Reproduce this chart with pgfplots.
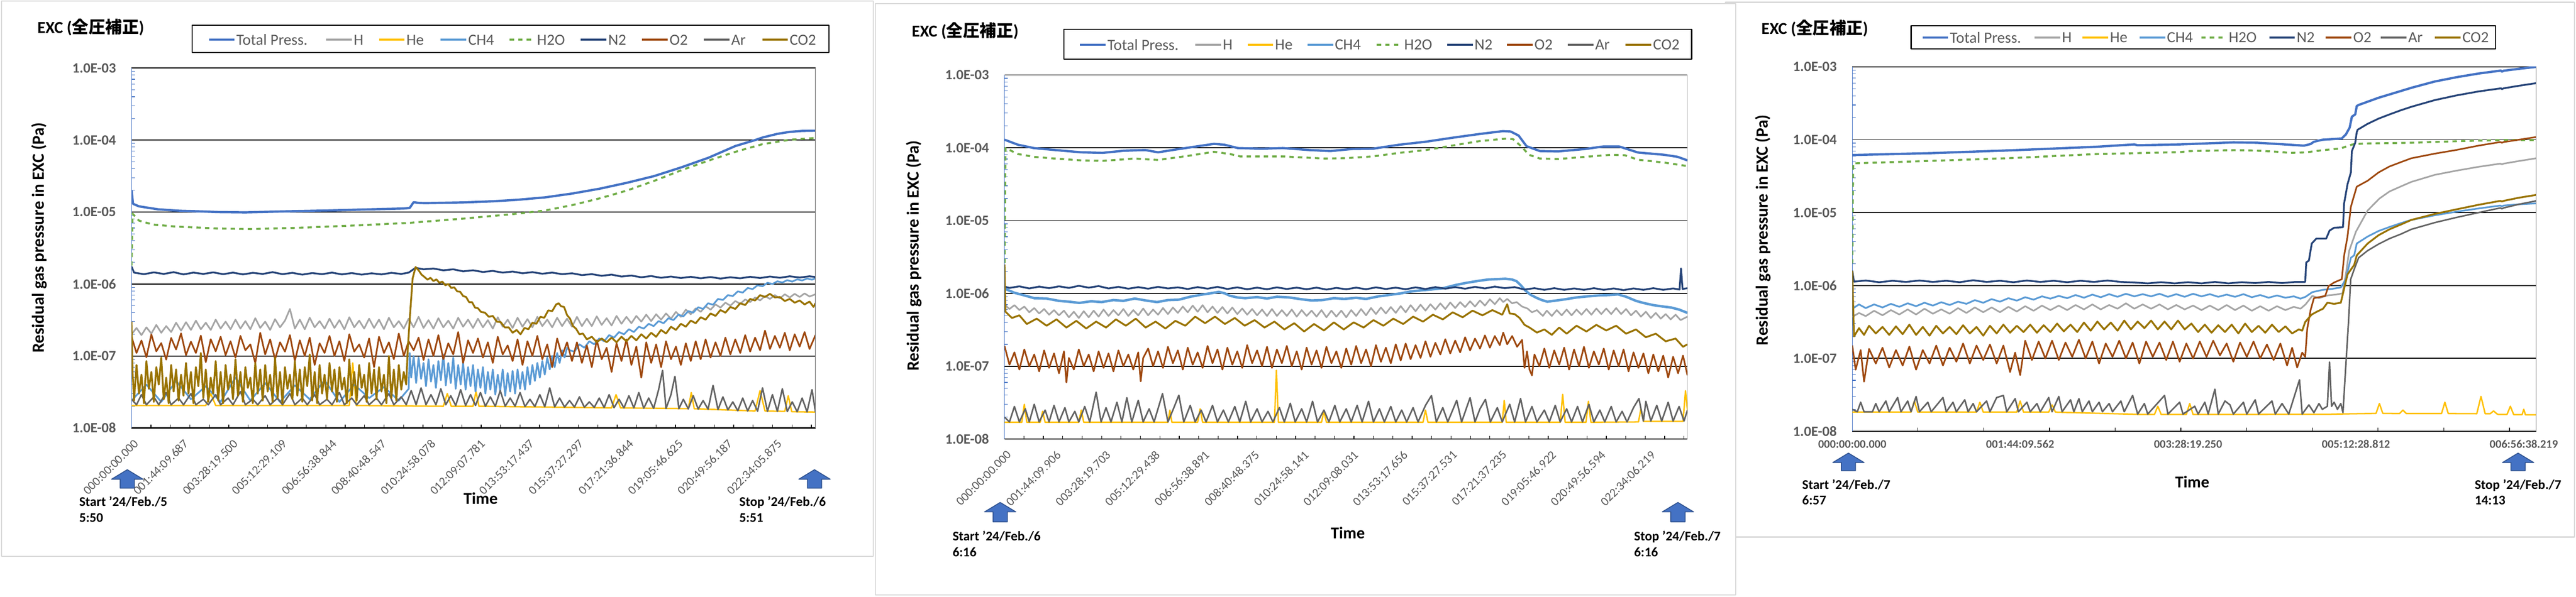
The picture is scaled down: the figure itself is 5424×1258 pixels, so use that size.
\documentclass[border=0pt]{standalone}
\usepackage{fontspec}
\setmainfont{Carlito}
\newfontfamily\cjk{Noto Sans CJK JP}
\usepackage{pgfplots}
\pgfplotsset{compat=1.18}

\definecolor{cTot}{HTML}{4472C4}
\definecolor{cH}{HTML}{A5A5A5}
\definecolor{cHe}{HTML}{FFC000}
\definecolor{cCH4}{HTML}{5B9BD5}
\definecolor{cH2O}{HTML}{70AD47}
\definecolor{cN2}{HTML}{264478}
\definecolor{cO2}{HTML}{9E480E}
\definecolor{cAr}{HTML}{636363}
\definecolor{cCO2}{HTML}{997300}
\definecolor{txtgray}{HTML}{595959}
\definecolor{framegray}{HTML}{D9D9D9}
\definecolor{arrowdk}{HTML}{2F528F}

\tikzset{
  sTot/.style={cTot, line width=1.2bp},
  sH/.style={cH, line width=0.85bp},
  sHe/.style={cHe, line width=0.75bp},
  sCH4/.style={cCH4, line width=0.9bp},
  sH2O/.style={cH2O, line width=1.05bp, dash pattern=on 2.3bp off 2.2bp},
  sN2/.style={cN2, line width=0.95bp},
  sO2/.style={cO2, line width=0.85bp},
  sAr/.style={cAr, line width=0.8bp},
  sCO2/.style={cCO2, line width=0.95bp},
}

% legend sample + text; #1 x start, #2 y, #3 style, #4 text
\newcommand\legitem[4]{%
  \draw[#3, line width=1.1bp] (#1,#2) -- ++(54,0);
  \node[anchor=west, inner sep=0pt, text=txtgray, font=\fontsize{8.2bp}{9bp}\selectfont] at (#1+57,#2) {#4};}

% blue block arrow; #1 centre x, #2 top y (tikz), #3 height
\newcommand\blockarrow[3]{%
  \filldraw[fill=cTot, draw=arrowdk, line width=0.45bp]
    (#1,#2) -- (#1+33,#2-20) -- (#1+15,#2-20) -- (#1+15,#2-#3)
    -- (#1-15,#2-#3) -- (#1-15,#2-20) -- (#1-33,#2-20) -- cycle;}

\pgfplotsset{
  rgax/.style={
    axis lines*=left,
    x axis line style={-, black, line width=0.6bp},
    y axis line style={-, cTot, line width=0.3bp},
    ytick={1e-8,1e-7,1e-6,1e-5,1e-4,1e-3},
    yticklabels={1.0E-08,1.0E-07,1.0E-06,1.0E-05,1.0E-04,1.0E-03},
    minor ytick={2e-8,3e-8,4e-8,5e-8,6e-8,7e-8,8e-8,9e-8,
                 2e-7,3e-7,4e-7,5e-7,6e-7,7e-7,8e-7,9e-7,
                 2e-6,3e-6,4e-6,5e-6,6e-6,7e-6,8e-6,9e-6,
                 2e-5,3e-5,4e-5,5e-5,6e-5,7e-5,8e-5,9e-5,
                 2e-4,3e-4,4e-4,5e-4,6e-4,7e-4,8e-4,9e-4},
    ymajorgrids, major grid style={black, line width=0.5bp},
    tick align=inside,
    major tick length=0pt, minor tick length=1.8bp,
    minor x tick style={black, line width=0.35bp},
    minor y tick style={cTot, line width=0.3bp},
    yticklabel style={font=\bfseries\fontsize{7.5bp}{8bp}\selectfont, text=txtgray,
                      anchor=east, inner sep=0pt, xshift=-8bp},
    no markers,
  },
  rgrot/.style={
    xticklabel style={xshift=1bp, yshift=-5.5bp, rotate=45, anchor=north east,
      inner sep=0pt, font=\fontsize{6.45bp}{7bp}\selectfont, text=txtgray},
  },
}

\begin{document}
\begin{tikzpicture}[x=0.25bp, y=0.25bp, line join=round]
\path[use as bounding box] (0,0) rectangle (5424,1258);

% chart area frames
\filldraw[fill=white, draw=framegray, line width=0.6bp] (3,1256) rectangle (1839,85);
\filldraw[fill=white, draw=framegray, line width=0.6bp] (3633,1253) rectangle (5421,126);
\filldraw[fill=white, draw=framegray, line width=0.6bp] (1843,1250) rectangle (3655,4);

% ================= panel 1 =================
\begin{axis}[scale only axis, anchor=south west, at={(69.25bp,89bp)},
  width=360bp, height=189.6bp,
  ymode=log, ymin=1e-8, ymax=1e-3, xmin=0, xmax=13.82,
  rgax, rgrot,
  xtick={0,1,...,13},
  xticklabels={000:00:00.000,001:44:09.687,003:28:19.500,005:12:29.109,006:56:38.844,008:40:48.547,010:24:58.078,012:09:07.781,013:53:17.437,015:37:27.297,017:21:36.844,019:05:46.625,020:49:56.187,022:34:05.875},
  minor xtick={0.3925,0.785,...,13.82}]
\addplot[sTot] coordinates {(0,2.0e-5)(0.03,1.3e-5)(0.15,1.2e-5)(0.32,1.15e-5)(0.54,1.09e-5)(0.98,1.04e-5)(1.4,1.02e-5)(1.75,1.0e-5)(2.3,9.9e-6)(3.07,1.02e-5)(3.95,1.05e-5)(4.83,1.09e-5)(5.5,1.12e-5)(5.62,1.14e-5)(5.7,1.37e-5)(5.8,1.34e-5)(5.93,1.33e-5)(6.7,1.36e-5)(7.3,1.41e-5)(7.8,1.48e-5)(8.36,1.6e-5)(8.91,1.81e-5)(9.46,2.11e-5)(10.01,2.55e-5)(10.56,3.16e-5)(11.11,4.18e-5)(11.66,5.69e-5)(12.2,8.26e-5)(12.6,1.0e-4)(12.76,1.09e-4)(13.05,1.22e-4)(13.3,1.3e-4)(13.55,1.34e-4)(13.82,1.35e-4)};
\addplot[sH] coordinates {(0,2.0e-7)(0.1,2.45e-7)(0.2,1.95e-7)(0.3,2.5e-7)(0.4,2.05e-7)(0.5,2.7e-7)(0.6,2.1e-7)(0.7,2.6e-7)(0.8,2.15e-7)(0.9,2.9e-7)(1.0,2.25e-7)(1.1,2.95e-7)(1.2,2.3e-7)(1.3,3.1e-7)(1.4,2.35e-7)(1.5,2.9e-7)(1.6,2.3e-7)(1.7,3.2e-7)(1.8,2.4e-7)(1.9,3.0e-7)(2.0,2.35e-7)(2.1,3.2e-7)(2.2,2.4e-7)(2.3,3.05e-7)(2.4,2.35e-7)(2.5,3.35e-7)(2.6,2.45e-7)(2.7,3.0e-7)(2.8,2.3e-7)(2.9,3.25e-7)(3.0,2.5e-7)(3.1,3.1e-7)(3.2,4.5e-7)(3.3,2.4e-7)(3.4,3.2e-7)(3.5,2.35e-7)(3.6,3.4e-7)(3.7,2.5e-7)(3.8,3.05e-7)(3.9,2.4e-7)(4.0,3.3e-7)(4.1,2.45e-7)(4.2,3.15e-7)(4.3,2.35e-7)(4.4,3.45e-7)(4.5,2.5e-7)(4.6,3.1e-7)(4.7,2.4e-7)(4.8,3.3e-7)(4.9,2.45e-7)(5.0,3.2e-7)(5.1,2.35e-7)(5.2,3.4e-7)(5.3,2.5e-7)(5.4,3.05e-7)(5.5,2.4e-7)(5.6,3.3e-7)(5.7,2.5e-7)(5.8,3.5e-7)(5.9,2.45e-7)(6.0,3.15e-7)(6.1,2.4e-7)(6.2,3.35e-7)(6.3,2.5e-7)(6.4,3.1e-7)(6.5,2.4e-7)(6.6,3.4e-7)(6.7,2.55e-7)(6.8,3.2e-7)(6.9,2.45e-7)(7.0,3.3e-7)(7.1,2.5e-7)(7.2,3.15e-7)(7.3,2.4e-7)(7.4,3.45e-7)(7.5,2.55e-7)(7.6,3.2e-7)(7.7,2.45e-7)(7.8,3.4e-7)(7.9,2.55e-7)(8.0,3.25e-7)(8.1,2.5e-7)(8.2,3.5e-7)(8.3,2.6e-7)(8.4,3.2e-7)(8.5,2.5e-7)(8.6,3.4e-7)(8.7,2.6e-7)(8.8,3.3e-7)(8.9,2.55e-7)(9.0,3.5e-7)(9.1,2.6e-7)(9.2,3.3e-7)(9.3,2.6e-7)(9.4,3.55e-7)(9.5,2.7e-7)(9.6,3.35e-7)(9.7,2.65e-7)(9.8,3.6e-7)(9.9,2.8e-7)(10.0,3.5e-7)(10.1,2.85e-7)(10.2,3.6e-7)(10.3,3.0e-7)(10.4,3.75e-7)(10.5,3.05e-7)(10.6,3.8e-7)(10.7,3.2e-7)(10.8,3.9e-7)(10.9,3.3e-7)(11.0,4.1e-7)(11.1,3.5e-7)(11.2,4.4e-7)(11.3,3.8e-7)(11.4,4.6e-7)(11.5,4.1e-7)(11.6,4.9e-7)(11.7,4.4e-7)(11.8,5.2e-7)(11.9,4.7e-7)(12.0,5.5e-7)(12.1,5.0e-7)(12.2,5.8e-7)(12.3,5.3e-7)(12.4,6.1e-7)(12.5,5.6e-7)(12.6,6.5e-7)(12.7,5.9e-7)(12.8,6.8e-7)(12.9,6.2e-7)(13.0,7.0e-7)(13.1,6.3e-7)(13.2,7.2e-7)(13.3,6.5e-7)(13.4,7.3e-7)(13.5,6.6e-7)(13.6,7.4e-7)(13.7,6.7e-7)(13.82,7.2e-7)};
\addplot[sHe] coordinates {(0,2.05e-8)(1.5,2.05e-8)(1.6,3.0e-8)(1.7,2.05e-8)(4.4,2.05e-8)(4.47,8.0e-8)(4.54,2.05e-8)(6.3,2.0e-8)(6.38,3.0e-8)(6.46,2.0e-8)(6.9,2.0e-8)(6.96,3.2e-8)(7.02,2.0e-8)(9.7,1.9e-8)(9.79,2.9e-8)(9.88,1.9e-8)(11.25,1.85e-8)(11.31,3.1e-8)(11.37,1.85e-8)(12.6,1.72e-8)(12.7,3.3e-8)(12.8,1.72e-8)(13.2,1.7e-8)(13.27,2.8e-8)(13.34,1.68e-8)(13.82,1.66e-8)};
\addplot[sCH4] coordinates {(0,2.4e-8)(0.3,4.0e-8)(0.6,2.3e-8)(0.9,4.5e-8)(1.2,2.5e-8)(1.5,3.8e-8)(1.8,2.3e-8)(2.1,5.0e-8)(2.4,2.4e-8)(2.7,4.2e-8)(3.0,2.3e-8)(3.3,3.9e-8)(3.6,2.5e-8)(3.9,4.6e-8)(4.2,2.3e-8)(4.5,4.0e-8)(4.8,2.6e-8)(5.1,3.7e-8)(5.4,2.4e-8)(5.6,3.5e-8)(5.62,1.1e-7)(5.65,5.0e-8)(5.7,1.0e-7)(5.75,4.2e-8)(5.8,9.5e-8)(5.85,4.8e-8)(5.9,8.0e-8)(5.95,3.8e-8)(6.0,9.0e-8)(6.05,4.4e-8)(6.1,7.5e-8)(6.15,3.6e-8)(6.2,8.5e-8)(6.25,4.6e-8)(6.3,1.05e-7)(6.35,3.9e-8)(6.4,8.0e-8)(6.45,4.2e-8)(6.5,9.5e-8)(6.55,3.5e-8)(6.6,7.5e-8)(6.65,4.0e-8)(6.7,8.0e-8)(6.75,3.4e-8)(6.8,7.0e-8)(6.85,3.8e-8)(6.9,7.5e-8)(6.95,3.2e-8)(7.0,6.5e-8)(7.05,3.6e-8)(7.1,7.0e-8)(7.15,3.0e-8)(7.2,6.0e-8)(7.25,3.4e-8)(7.3,6.5e-8)(7.35,2.9e-8)(7.4,5.5e-8)(7.45,3.3e-8)(7.5,6.5e-8)(7.55,2.8e-8)(7.6,5.8e-8)(7.65,3.2e-8)(7.7,6.2e-8)(7.75,3.0e-8)(7.8,6.5e-8)(7.85,3.5e-8)(7.9,6.0e-8)(7.95,3.4e-8)(8.0,7.0e-8)(8.05,4.0e-8)(8.1,7.5e-8)(8.15,4.5e-8)(8.2,8.0e-8)(8.25,5.0e-8)(8.3,8.5e-8)(8.35,5.5e-8)(8.4,9.5e-8)(8.45,6.5e-8)(8.5,1.0e-7)(8.55,7.0e-8)(8.6,1.1e-7)(8.65,8.0e-8)(8.7,1.2e-7)(8.75,9.5e-8)(8.8,1.3e-7)(8.85,1.2e-7)(8.95,1.15e-7)(9.05,1.45e-7)(9.15,1.3e-7)(9.25,1.6e-7)(9.35,1.45e-7)(9.45,1.75e-7)(9.55,1.6e-7)(9.65,1.95e-7)(9.75,1.8e-7)(9.85,2.15e-7)(9.95,2.0e-7)(10.05,2.35e-7)(10.15,2.15e-7)(10.25,2.55e-7)(10.35,2.4e-7)(10.45,2.8e-7)(10.55,2.6e-7)(10.65,3.05e-7)(10.75,2.85e-7)(10.85,3.35e-7)(10.95,3.15e-7)(11.05,3.75e-7)(11.15,3.55e-7)(11.25,4.2e-7)(11.35,4.0e-7)(11.45,4.75e-7)(11.55,4.5e-7)(11.65,5.4e-7)(11.75,5.15e-7)(11.85,6.2e-7)(11.95,6.0e-7)(12.05,7.0e-7)(12.15,6.8e-7)(12.25,7.9e-7)(12.35,7.6e-7)(12.45,8.8e-7)(12.55,8.5e-7)(12.65,9.6e-7)(12.75,9.3e-7)(12.85,1.04e-6)(12.95,1.0e-6)(13.05,1.09e-6)(13.15,1.05e-6)(13.25,1.13e-6)(13.35,1.08e-6)(13.45,1.16e-6)(13.55,1.12e-6)(13.65,1.19e-6)(13.75,1.15e-6)(13.82,1.2e-6)};
\addplot[sH2O] coordinates {(0,1.8e-6)(0.02,9.5e-6)(0.15,7.6e-6)(0.43,6.7e-6)(0.87,6.3e-6)(1.75,5.9e-6)(2.41,5.8e-6)(3.4,6.05e-6)(4.5,6.5e-6)(5.6,7.06e-6)(6.7,8.1e-6)(7.8,9.5e-6)(8.36,1.05e-5)(8.91,1.25e-5)(9.46,1.55e-5)(10.01,1.99e-5)(10.56,2.71e-5)(11.11,3.81e-5)(11.66,5.19e-5)(12.2,6.86e-5)(12.75,8.78e-5)(13.3,1.01e-4)(13.82,1.07e-4)};
\addplot[sN2] coordinates {(0,1.75e-6)(0.05,1.44e-6)(0.25,1.37e-6)(0.45,1.45e-6)(0.65,1.38e-6)(0.85,1.46e-6)(1.05,1.36e-6)(1.25,1.44e-6)(1.45,1.38e-6)(1.65,1.45e-6)(1.85,1.37e-6)(2.05,1.44e-6)(2.25,1.36e-6)(2.45,1.43e-6)(2.65,1.38e-6)(2.85,1.46e-6)(3.05,1.37e-6)(3.25,1.43e-6)(3.45,1.35e-6)(3.65,1.42e-6)(3.85,1.37e-6)(4.05,1.44e-6)(4.25,1.36e-6)(4.45,1.42e-6)(4.65,1.35e-6)(4.85,1.41e-6)(5.05,1.36e-6)(5.25,1.43e-6)(5.45,1.38e-6)(5.6,1.44e-6)(5.74,1.68e-6)(5.9,1.6e-6)(6.1,1.64e-6)(6.3,1.55e-6)(6.5,1.6e-6)(6.7,1.5e-6)(6.9,1.55e-6)(7.1,1.47e-6)(7.3,1.52e-6)(7.5,1.44e-6)(7.7,1.49e-6)(7.9,1.41e-6)(8.1,1.46e-6)(8.3,1.39e-6)(8.5,1.44e-6)(8.7,1.37e-6)(8.9,1.41e-6)(9.1,1.33e-6)(9.3,1.37e-6)(9.5,1.3e-6)(9.7,1.35e-6)(9.9,1.27e-6)(10.1,1.31e-6)(10.3,1.24e-6)(10.5,1.29e-6)(10.7,1.22e-6)(10.9,1.27e-6)(11.1,1.21e-6)(11.3,1.26e-6)(11.5,1.2e-6)(11.7,1.25e-6)(11.9,1.19e-6)(12.1,1.24e-6)(12.3,1.2e-6)(12.5,1.26e-6)(12.7,1.21e-6)(12.9,1.27e-6)(13.1,1.22e-6)(13.3,1.28e-6)(13.5,1.23e-6)(13.7,1.28e-6)(13.82,1.25e-6)};
\addplot[sO2] coordinates {(0,1.85e-7)(0.1,1.1e-7)(0.2,1.64e-7)(0.3,0.96e-7)(0.4,1.99e-7)(0.5,1.16e-7)(0.6,1.51e-7)(0.7,0.89e-7)(0.8,1.78e-7)(0.9,1.23e-7)(1.0,2.06e-7)(1.1,1.03e-7)(1.2,1.58e-7)(1.3,1.1e-7)(1.4,1.92e-7)(1.5,0.82e-7)(1.6,1.71e-7)(1.7,1.16e-7)(1.8,1.85e-7)(1.9,1.03e-7)(2.0,1.6e-7)(2.1,0.95e-7)(2.2,1.9e-7)(2.3,1.2e-7)(2.4,1.45e-7)(2.5,0.8e-7)(2.6,2.1e-7)(2.7,1.05e-7)(2.8,1.7e-7)(2.9,0.9e-7)(3.0,1.55e-7)(3.1,1.15e-7)(3.2,1.95e-7)(3.3,0.85e-7)(3.4,1.65e-7)(3.5,1.0e-7)(3.6,1.8e-7)(3.7,0.75e-7)(3.8,1.5e-7)(3.9,1.1e-7)(4.0,1.9e-7)(4.1,1.0e-7)(4.2,1.6e-7)(4.3,0.85e-7)(4.4,2.0e-7)(4.5,1.15e-7)(4.6,1.45e-7)(4.7,0.95e-7)(4.8,1.75e-7)(4.9,0.7e-7)(5.0,1.85e-7)(5.1,1.1e-7)(5.2,1.55e-7)(5.3,0.9e-7)(5.4,2.05e-7)(5.5,1.0e-7)(5.6,1.6e-7)(5.7,1.2e-7)(5.8,1.8e-7)(5.9,0.88e-7)(6.0,1.7e-7)(6.1,1.0e-7)(6.2,1.95e-7)(6.3,0.9e-7)(6.4,1.5e-7)(6.5,1.05e-7)(6.6,2.15e-7)(6.7,0.8e-7)(6.8,1.65e-7)(6.9,1.1e-7)(7.0,1.75e-7)(7.1,0.95e-7)(7.2,1.55e-7)(7.3,0.8e-7)(7.4,1.85e-7)(7.5,1.05e-7)(7.6,1.4e-7)(7.7,0.85e-7)(7.8,1.7e-7)(7.9,0.75e-7)(8.0,1.6e-7)(8.1,1.0e-7)(8.2,1.9e-7)(8.3,0.9e-7)(8.4,1.45e-7)(8.5,0.7e-7)(8.6,1.75e-7)(8.7,1.0e-7)(8.8,1.55e-7)(8.9,0.85e-7)(9.0,1.55e-7)(9.1,0.8e-7)(9.2,1.4e-7)(9.3,0.7e-7)(9.4,1.65e-7)(9.5,0.9e-7)(9.6,1.3e-7)(9.7,0.6e-7)(9.8,1.5e-7)(9.9,0.85e-7)(10.0,1.7e-7)(10.1,0.75e-7)(10.2,1.35e-7)(10.3,0.5e-7)(10.4,1.55e-7)(10.5,0.8e-7)(10.6,1.45e-7)(10.7,0.7e-7)(10.8,1.6e-7)(10.9,0.9e-7)(11.0,1.35e-7)(11.1,0.75e-7)(11.2,1.5e-7)(11.3,0.85e-7)(11.4,1.6e-7)(11.5,0.9e-7)(11.6,1.7e-7)(11.7,0.95e-7)(11.8,1.55e-7)(11.9,1.0e-7)(12.0,1.8e-7)(12.1,1.05e-7)(12.2,1.7e-7)(12.3,1.1e-7)(12.4,1.95e-7)(12.5,1.15e-7)(12.6,1.8e-7)(12.7,1.2e-7)(12.8,2.25e-7)(12.9,1.25e-7)(13.0,1.9e-7)(13.1,1.3e-7)(13.2,2.1e-7)(13.3,1.2e-7)(13.4,2.0e-7)(13.5,1.35e-7)(13.6,2.15e-7)(13.7,1.25e-7)(13.82,1.95e-7)};
\addplot[sAr] coordinates {(0,2.5e-8)(0.1,2.1e-8)(0.2,2.9e-8)(0.3,2.1e-8)(0.45,2.7e-8)(0.55,2.1e-8)(0.7,3.1e-8)(0.8,2.1e-8)(0.95,2.6e-8)(1.05,2.1e-8)(1.2,3.0e-8)(1.3,2.1e-8)(1.45,2.5e-8)(1.55,2.1e-8)(1.7,2.9e-8)(1.8,2.1e-8)(1.95,2.6e-8)(2.05,2.1e-8)(2.2,3.2e-8)(2.3,2.1e-8)(2.45,2.5e-8)(2.55,2.1e-8)(2.7,2.8e-8)(2.8,2.1e-8)(2.95,2.6e-8)(3.05,2.1e-8)(3.2,3.0e-8)(3.3,2.1e-8)(3.45,2.6e-8)(3.55,2.1e-8)(3.7,2.9e-8)(3.8,2.1e-8)(3.95,2.5e-8)(4.05,2.1e-8)(4.2,3.1e-8)(4.3,2.1e-8)(4.45,2.6e-8)(4.55,2.1e-8)(4.7,2.8e-8)(4.8,2.1e-8)(4.95,2.6e-8)(5.05,2.1e-8)(5.2,3.0e-8)(5.3,2.1e-8)(5.45,2.7e-8)(5.55,2.1e-8)(5.65,3.3e-8)(5.75,2.1e-8)(5.85,3.6e-8)(5.95,2.1e-8)(6.05,2.9e-8)(6.15,2.1e-8)(6.25,3.5e-8)(6.35,2.1e-8)(6.45,2.8e-8)(6.55,2.05e-8)(6.65,3.4e-8)(6.75,2.05e-8)(6.85,2.9e-8)(6.95,2.05e-8)(7.05,3.1e-8)(7.15,2.0e-8)(7.25,2.7e-8)(7.35,2.0e-8)(7.45,3.3e-8)(7.55,2.0e-8)(7.65,2.6e-8)(7.75,2.0e-8)(7.85,3.1e-8)(7.95,1.98e-8)(8.05,2.5e-8)(8.15,1.98e-8)(8.25,2.9e-8)(8.35,1.97e-8)(8.45,3.6e-8)(8.55,1.96e-8)(8.65,2.6e-8)(8.75,1.95e-8)(8.85,2.4e-8)(8.95,1.95e-8)(9.05,2.7e-8)(9.15,1.94e-8)(9.25,2.3e-8)(9.35,1.93e-8)(9.45,2.6e-8)(9.55,1.92e-8)(9.65,2.9e-8)(9.75,1.91e-8)(9.85,2.5e-8)(9.95,1.9e-8)(10.05,2.8e-8)(10.15,1.9e-8)(10.25,3.1e-8)(10.35,1.88e-8)(10.45,2.6e-8)(10.55,1.87e-8)(10.65,3.4e-8)(10.73,6.3e-8)(10.8,1.86e-8)(10.9,2.9e-8)(10.98,5.2e-8)(11.06,1.85e-8)(11.15,2.5e-8)(11.25,1.84e-8)(11.35,2.8e-8)(11.45,1.83e-8)(11.55,2.4e-8)(11.65,1.82e-8)(11.75,3.9e-8)(11.85,1.8e-8)(11.95,2.7e-8)(12.05,1.78e-8)(12.15,2.3e-8)(12.25,1.73e-8)(12.35,2.6e-8)(12.45,1.72e-8)(12.55,2.4e-8)(12.65,1.71e-8)(12.75,3.6e-8)(12.85,1.7e-8)(12.95,2.9e-8)(13.05,1.7e-8)(13.15,3.5e-8)(13.25,1.69e-8)(13.35,2.3e-8)(13.45,1.68e-8)(13.55,2.6e-8)(13.65,1.67e-8)(13.75,3.4e-8)(13.82,1.67e-8)};
\addplot[sCO2] coordinates {(0,3.0e-7)(0.02,6.0e-8)(0.05,2.4e-8)(0.1,7.5e-8)(0.15,3.0e-8)(0.2,5.5e-8)(0.25,2.2e-8)(0.3,8.5e-8)(0.35,3.5e-8)(0.4,6.0e-8)(0.45,2.3e-8)(0.5,7.0e-8)(0.55,4.0e-8)(0.6,9.5e-8)(0.65,2.5e-8)(0.7,5.0e-8)(0.75,2.2e-8)(0.8,7.5e-8)(0.85,3.2e-8)(0.9,6.5e-8)(0.95,2.4e-8)(1.0,5.5e-8)(1.05,2.8e-8)(1.1,8.0e-8)(1.15,3.0e-8)(1.2,6.0e-8)(1.25,2.2e-8)(1.3,7.0e-8)(1.35,3.8e-8)(1.4,1.1e-7)(1.45,2.6e-8)(1.5,6.5e-8)(1.55,2.3e-8)(1.6,5.0e-8)(1.65,3.0e-8)(1.7,8.5e-8)(1.75,2.4e-8)(1.8,6.0e-8)(1.85,2.2e-8)(1.9,7.5e-8)(1.95,3.4e-8)(2.0,5.5e-8)(2.05,2.5e-8)(2.1,9.0e-8)(2.15,2.8e-8)(2.2,6.0e-8)(2.25,2.3e-8)(2.3,7.0e-8)(2.35,3.6e-8)(2.4,5.0e-8)(2.45,2.2e-8)(2.5,8.0e-8)(2.55,3.0e-8)(2.6,6.5e-8)(2.65,2.4e-8)(2.7,7.5e-8)(2.75,3.2e-8)(2.8,5.5e-8)(2.85,2.3e-8)(2.9,9.5e-8)(2.95,2.6e-8)(3.0,6.0e-8)(3.05,2.2e-8)(3.1,7.0e-8)(3.15,3.5e-8)(3.2,5.5e-8)(3.25,2.5e-8)(3.3,8.5e-8)(3.35,2.8e-8)(3.4,6.5e-8)(3.45,2.3e-8)(3.5,7.0e-8)(3.55,3.8e-8)(3.6,1.05e-7)(3.65,2.4e-8)(3.7,6.0e-8)(3.75,2.2e-8)(3.8,7.5e-8)(3.85,3.0e-8)(3.9,5.5e-8)(3.95,2.5e-8)(4.0,8.0e-8)(4.05,3.2e-8)(4.1,6.5e-8)(4.15,2.3e-8)(4.2,7.0e-8)(4.25,3.4e-8)(4.3,5.0e-8)(4.35,2.2e-8)(4.4,9.0e-8)(4.45,2.8e-8)(4.5,6.0e-8)(4.55,2.4e-8)(4.6,7.5e-8)(4.65,3.6e-8)(4.7,5.5e-8)(4.75,2.3e-8)(4.8,8.0e-8)(4.85,3.0e-8)(4.9,6.5e-8)(4.95,2.5e-8)(5.0,7.0e-8)(5.05,3.2e-8)(5.1,5.5e-8)(5.15,2.2e-8)(5.2,1.0e-7)(5.25,2.6e-8)(5.3,6.5e-8)(5.35,2.4e-8)(5.4,7.5e-8)(5.45,3.4e-8)(5.5,6.0e-8)(5.55,4.0e-8)(5.58,1.2e-7)(5.63,4.0e-7)(5.68,1.2e-6)(5.74,1.72e-6)(5.8,1.55e-6)(5.86,1.35e-6)(5.92,1.25e-6)(5.98,1.15e-6)(6.04,1.22e-6)(6.1,1.1e-6)(6.16,1.16e-6)(6.22,1.04e-6)(6.28,1.08e-6)(6.34,0.96e-6)(6.4,1.0e-6)(6.46,8.8e-7)(6.52,9.0e-7)(6.58,7.9e-7)(6.64,7.8e-7)(6.7,6.8e-7)(6.76,6.6e-7)(6.82,5.6e-7)(6.88,5.6e-7)(6.94,4.7e-7)(7.0,4.6e-7)(7.06,4.1e-7)(7.14,4.0e-7)(7.22,3.5e-7)(7.3,3.6e-7)(7.38,3.0e-7)(7.46,2.95e-7)(7.54,2.5e-7)(7.62,2.5e-7)(7.7,2.1e-7)(7.78,2.3e-7)(7.86,2.0e-7)(7.94,2.45e-7)(8.02,2.35e-7)(8.1,2.9e-7)(8.18,2.8e-7)(8.26,3.5e-7)(8.34,3.4e-7)(8.42,4.3e-7)(8.5,4.2e-7)(8.58,5.2e-7)(8.63,5.4e-7)(8.68,4.9e-7)(8.74,4.8e-7)(8.8,3.7e-7)(8.86,3.3e-7)(8.92,2.6e-7)(8.98,2.4e-7)(9.05,2.0e-7)(9.12,2.05e-7)(9.2,1.7e-7)(9.3,1.85e-7)(9.4,1.55e-7)(9.5,1.75e-7)(9.6,1.55e-7)(9.7,1.8e-7)(9.8,1.55e-7)(9.9,1.85e-7)(10.0,1.6e-7)(10.1,1.9e-7)(10.2,1.65e-7)(10.3,2.0e-7)(10.4,1.75e-7)(10.5,2.1e-7)(10.6,1.85e-7)(10.7,2.3e-7)(10.8,2.05e-7)(10.9,2.55e-7)(11.0,2.3e-7)(11.1,2.8e-7)(11.2,2.55e-7)(11.3,3.1e-7)(11.4,2.85e-7)(11.5,3.45e-7)(11.6,3.2e-7)(11.7,3.9e-7)(11.8,3.6e-7)(11.9,4.35e-7)(12.0,4.0e-7)(12.1,4.8e-7)(12.2,4.5e-7)(12.3,5.4e-7)(12.4,5.1e-7)(12.5,6.2e-7)(12.6,5.9e-7)(12.7,7.0e-7)(12.8,6.6e-7)(12.9,7.3e-7)(13.0,6.5e-7)(13.1,6.6e-7)(13.2,5.8e-7)(13.3,6.2e-7)(13.4,5.5e-7)(13.5,5.9e-7)(13.6,5.2e-7)(13.7,5.7e-7)(13.78,4.8e-7)(13.82,5.4e-7)};
\draw[color=txtgray, line width=0.3bp] (rel axis cs:1,0) -- (rel axis cs:1,1);
\end{axis}

% ================= panel 2 =================
\begin{axis}[scale only axis, anchor=south west, at={(528.75bp,83.125bp)},
  width=359.5bp, height=191.9bp,
  ymode=log, ymin=1e-8, ymax=1e-3, xmin=0, xmax=13.79,
  rgax, rgrot,
  xtick={0,1,...,13},
  xticklabels={000:00:00.000,001:44:09.906,003:28:19.703,005:12:29.438,006:56:38.891,008:40:48.375,010:24:58.141,012:09:08.031,013:53:17.656,015:37:27.531,017:21:37.235,019:05:46.922,020:49:56.594,022:34:06.219},
  minor xtick={0.392,0.784,...,13.79}]
\addplot[sTot] coordinates {(0,1.29e-4)(0.27,1.1e-4)(0.59,9.9e-5)(1.02,9.3e-5)(1.55,8.65e-5)(1.98,8.5e-5)(2.41,9.1e-5)(2.84,9.3e-5)(3.1,8.65e-5)(3.48,9.5e-5)(3.91,1.05e-4)(4.23,1.13e-4)(4.44,1.1e-4)(4.71,9.9e-5)(5.19,9.7e-5)(5.62,9.9e-5)(6.15,9.3e-5)(6.58,9.0e-5)(7.01,9.6e-5)(7.44,9.7e-5)(7.97,1.1e-4)(8.51,1.21e-4)(9.04,1.37e-4)(9.58,1.54e-4)(10.06,1.69e-4)(10.22,1.67e-4)(10.38,1.47e-4)(10.54,1.05e-4)(10.81,9.0e-5)(11.18,8.9e-5)(11.72,9.6e-5)(12.09,1.04e-4)(12.41,1.04e-4)(12.79,8.6e-5)(13.32,8.0e-5)(13.59,7.5e-5)(13.79,6.7e-5)};
\addplot[sH] coordinates {(0,7.0e-7)(0.1,6.1e-7)(0.2,6.9e-7)(0.3,5.9e-7)(0.4,6.6e-7)(0.5,5.5e-7)(0.6,6.3e-7)(0.7,5.3e-7)(0.8,6.1e-7)(0.9,5.1e-7)(1.0,5.9e-7)(1.1,5.0e-7)(1.2,5.8e-7)(1.3,4.7e-7)(1.4,5.6e-7)(1.5,4.6e-7)(1.6,5.7e-7)(1.7,4.7e-7)(1.8,5.8e-7)(1.9,4.8e-7)(2.0,6.0e-7)(2.1,4.9e-7)(2.2,5.9e-7)(2.3,5.0e-7)(2.4,6.1e-7)(2.5,4.9e-7)(2.6,5.9e-7)(2.7,5.0e-7)(2.8,6.2e-7)(2.9,5.0e-7)(3.0,6.0e-7)(3.1,5.1e-7)(3.2,6.3e-7)(3.3,5.2e-7)(3.4,6.4e-7)(3.5,5.4e-7)(3.6,6.6e-7)(3.7,5.5e-7)(3.8,6.8e-7)(3.9,5.6e-7)(4.0,6.9e-7)(4.1,5.5e-7)(4.2,6.6e-7)(4.3,5.4e-7)(4.4,6.5e-7)(4.5,5.3e-7)(4.6,6.4e-7)(4.7,5.2e-7)(4.8,6.2e-7)(4.9,5.1e-7)(5.0,6.1e-7)(5.1,5.0e-7)(5.2,6.0e-7)(5.3,4.9e-7)(5.4,6.1e-7)(5.5,4.9e-7)(5.6,5.9e-7)(5.7,4.9e-7)(5.8,6.0e-7)(5.9,4.8e-7)(6.0,5.9e-7)(6.1,4.9e-7)(6.2,5.8e-7)(6.3,4.8e-7)(6.4,5.9e-7)(6.5,4.7e-7)(6.6,5.8e-7)(6.7,4.8e-7)(6.8,5.8e-7)(6.9,4.7e-7)(7.0,5.9e-7)(7.1,4.9e-7)(7.2,6.1e-7)(7.3,5.0e-7)(7.4,6.3e-7)(7.5,5.2e-7)(7.6,6.4e-7)(7.7,5.3e-7)(7.8,6.5e-7)(7.9,5.4e-7)(8.0,6.7e-7)(8.1,5.5e-7)(8.2,6.9e-7)(8.3,5.7e-7)(8.4,7.0e-7)(8.5,5.8e-7)(8.6,7.1e-7)(8.7,6.0e-7)(8.8,7.3e-7)(8.9,6.1e-7)(9.0,7.5e-7)(9.1,6.3e-7)(9.2,7.6e-7)(9.3,6.5e-7)(9.4,7.8e-7)(9.5,6.6e-7)(9.6,8.0e-7)(9.7,6.8e-7)(9.8,8.3e-7)(9.9,7.1e-7)(10.0,8.6e-7)(10.07,7.6e-7)(10.15,8.4e-7)(10.25,7.3e-7)(10.34,7.6e-7)(10.45,6.6e-7)(10.56,6.2e-7)(10.65,5.5e-7)(10.75,5.9e-7)(10.87,4.9e-7)(10.95,5.8e-7)(11.05,4.9e-7)(11.15,5.9e-7)(11.25,5.0e-7)(11.35,6.0e-7)(11.45,5.0e-7)(11.55,6.0e-7)(11.65,5.1e-7)(11.75,6.1e-7)(11.85,5.1e-7)(11.95,6.2e-7)(12.05,5.2e-7)(12.15,6.2e-7)(12.25,5.2e-7)(12.35,6.3e-7)(12.45,5.2e-7)(12.55,6.1e-7)(12.65,5.0e-7)(12.75,5.8e-7)(12.85,4.8e-7)(12.95,5.6e-7)(13.05,4.6e-7)(13.15,5.4e-7)(13.25,4.5e-7)(13.35,5.2e-7)(13.45,4.4e-7)(13.55,5.1e-7)(13.65,4.3e-7)(13.79,4.8e-7)};
\addplot[sHe] coordinates {(0,1.7e-8)(0.35,1.7e-8)(0.4,3.0e-8)(0.45,1.7e-8)(0.72,1.7e-8)(0.77,2.4e-8)(0.82,1.7e-8)(1.5,1.7e-8)(1.55,2.5e-8)(1.6,1.7e-8)(3.3,1.7e-8)(3.34,2.5e-8)(3.38,1.7e-8)(3.9,1.7e-8)(3.95,2.6e-8)(4.0,1.7e-8)(5.45,1.7e-8)(5.49,8.8e-8)(5.53,1.7e-8)(6.4,1.7e-8)(6.45,2.4e-8)(6.5,1.7e-8)(8.45,1.7e-8)(8.5,2.5e-8)(8.55,1.7e-8)(10.05,1.7e-8)(10.09,3.4e-8)(10.13,1.7e-8)(11.22,1.7e-8)(11.27,4.1e-8)(11.32,1.7e-8)(11.74,1.7e-8)(11.79,3.3e-8)(11.84,1.7e-8)(12.8,1.72e-8)(12.85,2.6e-8)(12.9,1.75e-8)(13.7,1.75e-8)(13.75,4.6e-8)(13.79,2.5e-8)};
\addplot[sCH4, line width=1.3bp] coordinates {(0,1.2e-6)(0.02,1.15e-6)(0.2,1.02e-6)(0.4,9.4e-7)(0.6,8.6e-7)(0.85,8.5e-7)(1.1,7.9e-7)(1.3,7.7e-7)(1.51,7.4e-7)(1.75,7.8e-7)(1.96,7.6e-7)(2.2,8.1e-7)(2.4,7.9e-7)(2.63,8.5e-7)(2.85,8.0e-7)(3.08,7.6e-7)(3.3,8.1e-7)(3.52,8.2e-7)(3.75,9.0e-7)(3.97,9.6e-7)(4.15,1.0e-6)(4.33,1.05e-6)(4.45,1.0e-6)(4.55,9.3e-7)(4.7,8.8e-7)(4.86,8.6e-7)(5.1,8.9e-7)(5.3,8.5e-7)(5.5,9.0e-7)(5.75,8.8e-7)(6.0,8.3e-7)(6.2,8.0e-7)(6.42,8.1e-7)(6.65,8.6e-7)(6.86,8.4e-7)(7.1,8.7e-7)(7.3,8.4e-7)(7.55,9.1e-7)(7.75,9.5e-7)(8.0,1.0e-6)(8.19,1.06e-6)(8.4,1.1e-6)(8.6,1.13e-6)(8.86,1.18e-6)(9.1,1.3e-6)(9.31,1.39e-6)(9.55,1.48e-6)(9.76,1.55e-6)(9.95,1.57e-6)(10.11,1.59e-6)(10.25,1.55e-6)(10.34,1.47e-6)(10.43,1.28e-6)(10.52,1.09e-6)(10.62,9.6e-7)(10.74,8.7e-7)(10.85,8.1e-7)(10.96,7.7e-7)(11.15,8.0e-7)(11.32,8.3e-7)(11.55,8.8e-7)(11.77,9.1e-7)(12.0,9.4e-7)(12.2,9.5e-7)(12.39,9.7e-7)(12.55,9.0e-7)(12.75,7.9e-7)(12.9,7.4e-7)(13.1,6.9e-7)(13.3,6.6e-7)(13.46,6.4e-7)(13.62,6.0e-7)(13.79,5.4e-7)};
\addplot[sH2O] coordinates {(0,2.0e-6)(0.02,9.9e-5)(0.27,8.2e-5)(0.59,7.5e-5)(1.02,7.1e-5)(1.55,6.7e-5)(1.98,6.6e-5)(2.62,7.1e-5)(3.1,6.8e-5)(3.69,7.7e-5)(4.23,8.8e-5)(4.55,8.2e-5)(4.76,7.6e-5)(5.62,7.6e-5)(6.47,7.1e-5)(6.9,7.2e-5)(7.44,7.6e-5)(7.97,8.5e-5)(8.51,9.3e-5)(9.04,1.07e-4)(9.58,1.23e-4)(10.11,1.33e-4)(10.27,1.31e-4)(10.43,1.05e-4)(10.59,8.0e-5)(10.81,7.1e-5)(11.18,7.0e-5)(11.72,7.5e-5)(12.25,8.0e-5)(12.52,7.9e-5)(12.79,6.85e-5)(13.32,6.25e-5)(13.79,5.6e-5)};
\addplot[sN2] coordinates {(0,1.24e-6)(0.1,1.19e-6)(0.3,1.25e-6)(0.5,1.17e-6)(0.7,1.24e-6)(0.9,1.18e-6)(1.1,1.25e-6)(1.3,1.19e-6)(1.5,1.27e-6)(1.7,1.2e-6)(1.9,1.26e-6)(2.1,1.17e-6)(2.3,1.23e-6)(2.5,1.16e-6)(2.7,1.22e-6)(2.9,1.16e-6)(3.1,1.23e-6)(3.3,1.17e-6)(3.5,1.21e-6)(3.7,1.15e-6)(3.9,1.22e-6)(4.1,1.16e-6)(4.3,1.23e-6)(4.5,1.15e-6)(4.7,1.21e-6)(4.9,1.14e-6)(5.1,1.2e-6)(5.3,1.14e-6)(5.5,1.21e-6)(5.7,1.15e-6)(5.9,1.2e-6)(6.1,1.14e-6)(6.3,1.2e-6)(6.5,1.13e-6)(6.7,1.19e-6)(6.9,1.14e-6)(7.1,1.2e-6)(7.3,1.14e-6)(7.5,1.21e-6)(7.7,1.15e-6)(7.9,1.2e-6)(8.1,1.14e-6)(8.3,1.21e-6)(8.5,1.15e-6)(8.7,1.22e-6)(8.9,1.16e-6)(9.1,1.22e-6)(9.3,1.16e-6)(9.5,1.23e-6)(9.7,1.17e-6)(9.9,1.24e-6)(10.1,1.18e-6)(10.3,1.22e-6)(10.5,1.13e-6)(10.7,1.18e-6)(10.9,1.12e-6)(11.1,1.18e-6)(11.3,1.12e-6)(11.5,1.17e-6)(11.7,1.12e-6)(11.9,1.18e-6)(12.1,1.12e-6)(12.3,1.17e-6)(12.5,1.11e-6)(12.7,1.17e-6)(12.9,1.12e-6)(13.1,1.18e-6)(13.3,1.12e-6)(13.5,1.17e-6)(13.63,1.13e-6)(13.66,2.2e-6)(13.69,1.15e-6)(13.79,1.18e-6)};
\addplot[sO2] coordinates {(0,1.9e-7)(0.1,1.05e-7)(0.2,1.55e-7)(0.3,0.9e-7)(0.4,1.7e-7)(0.5,1.0e-7)(0.6,1.45e-7)(0.7,0.85e-7)(0.8,1.65e-7)(0.9,0.95e-7)(1.0,1.5e-7)(1.1,0.8e-7)(1.2,1.6e-7)(1.25,0.6e-7)(1.3,1.3e-7)(1.4,0.9e-7)(1.5,1.7e-7)(1.6,1.0e-7)(1.7,1.45e-7)(1.8,0.85e-7)(1.9,1.6e-7)(2.0,0.95e-7)(2.1,1.5e-7)(2.2,0.85e-7)(2.3,1.65e-7)(2.4,1.0e-7)(2.5,1.45e-7)(2.6,0.9e-7)(2.7,1.55e-7)(2.75,0.62e-7)(2.8,1.3e-7)(2.9,1.75e-7)(3.0,1.0e-7)(3.1,1.6e-7)(3.2,0.95e-7)(3.3,1.85e-7)(3.4,1.1e-7)(3.5,1.65e-7)(3.6,0.9e-7)(3.7,1.8e-7)(3.8,1.05e-7)(3.9,1.55e-7)(4.0,0.95e-7)(4.1,1.9e-7)(4.2,1.1e-7)(4.3,1.7e-7)(4.4,0.9e-7)(4.5,1.8e-7)(4.6,1.05e-7)(4.7,1.6e-7)(4.8,0.95e-7)(4.9,1.95e-7)(5.0,1.1e-7)(5.1,1.65e-7)(5.2,1.0e-7)(5.3,1.85e-7)(5.4,0.95e-7)(5.5,1.7e-7)(5.6,1.1e-7)(5.7,1.9e-7)(5.8,1.0e-7)(5.9,1.6e-7)(6.0,0.9e-7)(6.1,1.8e-7)(6.2,1.05e-7)(6.3,1.65e-7)(6.4,0.95e-7)(6.5,1.85e-7)(6.6,1.1e-7)(6.7,1.6e-7)(6.8,0.95e-7)(6.9,1.75e-7)(7.0,1.05e-7)(7.1,1.9e-7)(7.2,1.1e-7)(7.3,1.7e-7)(7.4,1.0e-7)(7.5,1.95e-7)(7.6,1.15e-7)(7.7,1.8e-7)(7.8,1.1e-7)(7.9,2.0e-7)(8.0,1.2e-7)(8.1,2.05e-7)(8.2,1.25e-7)(8.3,1.95e-7)(8.4,1.3e-7)(8.5,2.2e-7)(8.6,1.35e-7)(8.7,2.1e-7)(8.8,1.45e-7)(8.9,2.35e-7)(9.0,1.5e-7)(9.1,2.25e-7)(9.2,1.55e-7)(9.3,2.5e-7)(9.4,1.65e-7)(9.5,2.4e-7)(9.6,1.75e-7)(9.7,2.65e-7)(9.8,1.8e-7)(9.9,2.6e-7)(10.0,1.95e-7)(10.07,2.9e-7)(10.15,2.0e-7)(10.25,2.6e-7)(10.35,1.85e-7)(10.45,2.3e-7)(10.5,0.95e-7)(10.55,1.6e-7)(10.6,0.9e-7)(10.65,0.75e-7)(10.7,1.45e-7)(10.8,1.0e-7)(10.9,1.75e-7)(11.0,0.95e-7)(11.1,1.65e-7)(11.2,1.05e-7)(11.3,1.8e-7)(11.4,0.9e-7)(11.5,1.7e-7)(11.6,1.0e-7)(11.7,1.85e-7)(11.8,0.95e-7)(11.9,1.6e-7)(12.0,1.05e-7)(12.1,1.75e-7)(12.2,0.9e-7)(12.3,1.65e-7)(12.4,1.0e-7)(12.5,1.7e-7)(12.6,0.85e-7)(12.7,1.55e-7)(12.8,0.95e-7)(12.9,1.5e-7)(13.0,0.8e-7)(13.1,1.45e-7)(13.2,0.85e-7)(13.3,1.4e-7)(13.4,0.7e-7)(13.5,1.35e-7)(13.6,0.8e-7)(13.7,1.4e-7)(13.79,0.75e-7)};
\addplot[sAr] coordinates {(0,2.0e-8)(0.1,1.72e-8)(0.2,2.8e-8)(0.3,1.72e-8)(0.42,2.6e-8)(0.5,1.72e-8)(0.6,3.0e-8)(0.7,1.72e-8)(0.82,2.5e-8)(0.9,1.72e-8)(1.0,2.9e-8)(1.1,1.72e-8)(1.22,2.7e-8)(1.3,1.72e-8)(1.42,2.4e-8)(1.5,1.72e-8)(1.62,2.8e-8)(1.72,1.72e-8)(1.85,4.4e-8)(1.95,1.72e-8)(2.05,2.7e-8)(2.15,1.72e-8)(2.27,3.2e-8)(2.37,1.72e-8)(2.47,3.7e-8)(2.57,1.72e-8)(2.7,3.4e-8)(2.8,1.72e-8)(2.92,2.6e-8)(3.02,1.72e-8)(3.19,4.2e-8)(3.3,1.72e-8)(3.42,2.7e-8)(3.52,4.0e-8)(3.62,1.72e-8)(3.75,2.9e-8)(3.85,1.72e-8)(3.97,2.5e-8)(4.07,1.72e-8)(4.2,2.9e-8)(4.3,1.72e-8)(4.42,2.5e-8)(4.52,1.72e-8)(4.65,2.8e-8)(4.75,1.72e-8)(4.87,3.3e-8)(4.97,1.72e-8)(5.1,2.6e-8)(5.2,1.72e-8)(5.32,2.4e-8)(5.42,1.72e-8)(5.55,2.7e-8)(5.65,1.72e-8)(5.77,3.1e-8)(5.87,1.72e-8)(6.0,2.6e-8)(6.1,1.72e-8)(6.22,3.3e-8)(6.32,1.72e-8)(6.45,2.5e-8)(6.55,1.72e-8)(6.67,2.9e-8)(6.77,1.72e-8)(6.9,2.6e-8)(7.0,1.72e-8)(7.12,2.9e-8)(7.22,1.72e-8)(7.35,3.3e-8)(7.45,1.72e-8)(7.57,2.6e-8)(7.67,1.72e-8)(7.8,2.8e-8)(7.9,1.72e-8)(8.02,2.5e-8)(8.12,1.72e-8)(8.25,2.7e-8)(8.35,1.72e-8)(8.5,2.9e-8)(8.62,3.95e-8)(8.72,1.72e-8)(8.85,2.7e-8)(8.95,1.72e-8)(9.13,3.4e-8)(9.23,1.72e-8)(9.4,3.7e-8)(9.5,1.72e-8)(9.6,2.6e-8)(9.71,3.5e-8)(9.81,1.72e-8)(9.95,2.7e-8)(10.05,1.72e-8)(10.2,3.0e-8)(10.3,1.72e-8)(10.42,3.6e-8)(10.52,1.72e-8)(10.65,2.8e-8)(10.75,1.72e-8)(10.9,2.5e-8)(11.0,1.72e-8)(11.12,2.9e-8)(11.22,1.72e-8)(11.35,2.6e-8)(11.45,1.72e-8)(11.57,2.8e-8)(11.67,1.72e-8)(11.8,3.0e-8)(11.9,1.72e-8)(12.02,2.5e-8)(12.12,1.72e-8)(12.25,2.8e-8)(12.35,1.72e-8)(12.47,2.4e-8)(12.57,1.72e-8)(12.7,2.7e-8)(12.81,3.6e-8)(12.9,1.77e-8)(12.95,3.3e-8)(13.05,1.77e-8)(13.17,2.9e-8)(13.27,1.77e-8)(13.4,3.2e-8)(13.5,1.77e-8)(13.62,2.8e-8)(13.72,1.77e-8)(13.79,2.5e-8)};
\addplot[sCO2] coordinates {(0,2.5e-6)(0.02,5.6e-7)(0.15,4.6e-7)(0.3,5.0e-7)(0.45,3.8e-7)(0.65,4.5e-7)(0.85,3.6e-7)(1.05,4.4e-7)(1.25,3.4e-7)(1.45,4.2e-7)(1.65,3.3e-7)(1.85,4.1e-7)(2.05,3.4e-7)(2.25,4.4e-7)(2.45,3.6e-7)(2.65,4.5e-7)(2.85,3.4e-7)(3.05,4.1e-7)(3.25,3.3e-7)(3.45,4.2e-7)(3.65,3.6e-7)(3.85,4.8e-7)(4.05,3.9e-7)(4.25,4.8e-7)(4.45,3.8e-7)(4.65,4.6e-7)(4.85,3.6e-7)(5.05,4.3e-7)(5.25,3.4e-7)(5.45,4.1e-7)(5.65,3.2e-7)(5.85,3.9e-7)(6.05,3.0e-7)(6.25,3.8e-7)(6.45,3.1e-7)(6.65,4.0e-7)(6.85,3.2e-7)(7.05,4.0e-7)(7.25,3.4e-7)(7.45,4.3e-7)(7.65,3.6e-7)(7.85,4.5e-7)(8.05,3.8e-7)(8.25,4.8e-7)(8.45,4.1e-7)(8.65,5.1e-7)(8.85,4.4e-7)(9.05,5.5e-7)(9.25,4.7e-7)(9.45,5.8e-7)(9.65,5.0e-7)(9.85,5.9e-7)(10.05,5.1e-7)(10.15,7.1e-7)(10.2,5.3e-7)(10.3,5.2e-7)(10.4,4.6e-7)(10.5,3.7e-7)(10.6,3.4e-7)(10.75,2.9e-7)(10.9,3.2e-7)(11.05,2.7e-7)(11.2,3.4e-7)(11.35,2.8e-7)(11.55,3.6e-7)(11.75,3.0e-7)(11.95,3.7e-7)(12.15,3.1e-7)(12.35,3.6e-7)(12.55,2.8e-7)(12.75,3.2e-7)(12.95,2.5e-7)(13.15,2.8e-7)(13.35,2.2e-7)(13.55,2.4e-7)(13.7,1.85e-7)(13.79,2.0e-7)};
\draw[color=txtgray, line width=0.3bp] (rel axis cs:1,0) -- (rel axis cs:1,1);
\end{axis}

% ================= panel 3 =================
\begin{axis}[scale only axis, anchor=south west, at={(975bp,87.25bp)},
  width=360bp, height=192bp,
  ymode=log, ymin=1e-8, ymax=1e-3, xmin=0, xmax=4.074,
  rgax,
  xtick={0,1,2,3,4},
  xticklabels={000:00:00.000,001:44:09.562,003:28:19.250,005:12:28.812,006:56:38.219},
  xticklabel style={font=\bfseries\fontsize{6.1bp}{7bp}\selectfont, text=txtgray,
                    anchor=north, inner sep=0pt, yshift=-4.5bp},
  minor xtick={0.3915,0.783,...,4.074}]
\addplot[sTot] coordinates {(0,6.17e-5)(0.47,6.55e-5)(0.96,7.18e-5)(1.45,8.0e-5)(1.68,8.63e-5)(1.7,8.4e-5)(1.95,8.63e-5)(2.008,8.73e-5)(2.27,9.2e-5)(2.41,9.1e-5)(2.54,8.73e-5)(2.605,8.55e-5)(2.69,8.3e-5)(2.73,8.73e-5)(2.75,9.4e-5)(2.8,1.0e-4)(2.916,1.04e-4)(2.94,1.18e-4)(2.963,1.47e-4)(2.976,2.07e-4)(2.996,2.23e-4)(3.005,2.9e-4)(3.016,3.0e-4)(3.135,3.77e-4)(3.334,5.19e-4)(3.47,6.3e-4)(3.6,7.22e-4)(3.73,8.1e-4)(3.864,8.9e-4)(3.87,8.6e-4)(3.88,8.85e-4)(3.97,9.4e-4)(4.074,1.0e-3)};
\addplot[sH] coordinates {(0,3.7e-7)(0.04,4.2e-7)(0.08,3.8e-7)(0.13,4.5e-7)(0.18,3.9e-7)(0.23,4.6e-7)(0.28,4.0e-7)(0.33,4.7e-7)(0.38,4.0e-7)(0.43,4.8e-7)(0.48,4.1e-7)(0.53,4.7e-7)(0.58,4.1e-7)(0.63,4.9e-7)(0.68,4.2e-7)(0.73,5.0e-7)(0.78,4.3e-7)(0.83,5.0e-7)(0.88,4.3e-7)(0.93,5.1e-7)(0.98,4.4e-7)(1.03,5.2e-7)(1.08,4.5e-7)(1.13,5.3e-7)(1.18,4.6e-7)(1.23,5.3e-7)(1.28,4.6e-7)(1.33,5.4e-7)(1.38,4.7e-7)(1.43,5.5e-7)(1.48,4.7e-7)(1.53,5.4e-7)(1.58,4.8e-7)(1.63,5.7e-7)(1.68,4.8e-7)(1.73,5.5e-7)(1.78,4.8e-7)(1.83,5.5e-7)(1.88,4.7e-7)(1.93,5.4e-7)(1.98,4.7e-7)(2.03,5.3e-7)(2.08,4.6e-7)(2.13,5.3e-7)(2.18,4.6e-7)(2.23,5.4e-7)(2.28,4.6e-7)(2.33,5.3e-7)(2.38,4.5e-7)(2.43,5.2e-7)(2.48,4.5e-7)(2.53,5.2e-7)(2.58,4.6e-7)(2.63,5.1e-7)(2.67,4.8e-7)(2.7,5.5e-7)(2.74,7.2e-7)(2.78,6.7e-7)(2.83,7.3e-7)(2.88,7.5e-7)(2.92,7.8e-7)(2.94,1.42e-6)(2.96,3.0e-6)(3.0,5.47e-6)(3.07,1.07e-5)(3.14,1.56e-5)(3.2,1.95e-5)(3.27,2.3e-5)(3.33,2.64e-5)(3.47,3.3e-5)(3.6,3.77e-5)(3.73,4.25e-5)(3.86,4.7e-5)(3.87,4.6e-5)(3.88,4.7e-5)(3.97,5.1e-5)(4.074,5.57e-5)};
\addplot[sHe] coordinates {(0,1.83e-8)(0.35,1.83e-8)(0.37,2.6e-8)(0.39,1.83e-8)(0.74,1.83e-8)(0.76,2.5e-8)(0.78,1.83e-8)(0.98,1.83e-8)(1.0,2.6e-8)(1.02,1.83e-8)(1.17,1.83e-8)(1.19,2.3e-8)(1.21,1.83e-8)(1.72,1.7e-8)(1.8,1.7e-8)(1.82,2.2e-8)(1.84,1.7e-8)(1.99,1.7e-8)(2.01,2.4e-8)(2.03,1.7e-8)(2.843,1.71e-8)(2.94,1.73e-8)(3.07,1.75e-8)(3.12,1.76e-8)(3.14,2.4e-8)(3.16,1.76e-8)(3.26,1.75e-8)(3.28,1.95e-8)(3.3,1.75e-8)(3.51,1.75e-8)(3.53,2.5e-8)(3.55,1.75e-8)(3.72,1.74e-8)(3.745,3.0e-8)(3.77,1.74e-8)(3.8,1.74e-8)(3.82,1.9e-8)(3.84,1.73e-8)(3.85,1.7e-8)(3.9,1.7e-8)(3.92,2.2e-8)(3.94,1.69e-8)(3.99,1.69e-8)(4.0,2.0e-8)(4.01,1.68e-8)(4.074,1.68e-8)};
\addplot[sCH4] coordinates {(0,4.8e-7)(0.04,5.5e-7)(0.08,4.9e-7)(0.13,5.5e-7)(0.18,5.0e-7)(0.23,5.6e-7)(0.28,5.1e-7)(0.33,5.7e-7)(0.38,5.2e-7)(0.43,5.8e-7)(0.48,5.3e-7)(0.53,5.9e-7)(0.58,5.4e-7)(0.63,6.0e-7)(0.68,5.6e-7)(0.73,6.3e-7)(0.78,5.8e-7)(0.83,6.5e-7)(0.88,6.0e-7)(0.93,6.7e-7)(0.98,6.2e-7)(1.03,6.9e-7)(1.08,6.4e-7)(1.13,7.1e-7)(1.18,6.6e-7)(1.23,7.2e-7)(1.28,6.7e-7)(1.33,7.4e-7)(1.38,6.8e-7)(1.43,7.5e-7)(1.48,6.9e-7)(1.53,7.6e-7)(1.58,7.0e-7)(1.63,7.7e-7)(1.68,7.1e-7)(1.73,7.6e-7)(1.78,7.1e-7)(1.83,7.7e-7)(1.88,7.0e-7)(1.93,7.6e-7)(1.98,7.0e-7)(2.03,7.7e-7)(2.08,7.1e-7)(2.13,7.6e-7)(2.18,7.0e-7)(2.23,7.5e-7)(2.28,7.0e-7)(2.33,7.6e-7)(2.38,6.9e-7)(2.43,7.4e-7)(2.48,6.8e-7)(2.53,7.3e-7)(2.58,6.8e-7)(2.63,7.1e-7)(2.67,6.6e-7)(2.7,7.0e-7)(2.74,8.1e-7)(2.8,8.7e-7)(2.86,9.0e-7)(2.91,9.4e-7)(2.94,1.22e-6)(2.97,2.4e-6)(2.99,2.6e-6)(3.005,3.77e-6)(3.07,4.7e-6)(3.135,5.6e-6)(3.2,6.35e-6)(3.27,7.2e-6)(3.33,7.94e-6)(3.47,9.2e-6)(3.6,1.03e-5)(3.73,1.14e-5)(3.86,1.25e-5)(3.87,1.22e-5)(3.88,1.25e-5)(3.97,1.3e-5)(4.074,1.34e-5)};
\addplot[sH2O] coordinates {(0,2.0e-6)(0.005,4.74e-5)(0.47,5.13e-5)(0.96,5.62e-5)(1.45,6.36e-5)(1.95,6.76e-5)(2.008,6.98e-5)(2.273,7.2e-5)(2.406,7.1e-5)(2.538,6.83e-5)(2.605,6.6e-5)(2.698,6.7e-5)(2.804,7.2e-5)(2.91,7.6e-5)(2.963,8.4e-5)(2.989,8.73e-5)(3.069,8.9e-5)(3.334,9.1e-5)(3.599,9.56e-5)(3.864,9.9e-5)(4.074,9.9e-5)};
\addplot[sN2] coordinates {(0,1.6e-6)(0.01,1.13e-6)(0.08,1.17e-6)(0.16,1.11e-6)(0.24,1.16e-6)(0.32,1.12e-6)(0.4,1.17e-6)(0.48,1.12e-6)(0.56,1.16e-6)(0.64,1.11e-6)(0.72,1.18e-6)(0.8,1.12e-6)(0.88,1.16e-6)(0.96,1.11e-6)(1.04,1.17e-6)(1.12,1.12e-6)(1.2,1.16e-6)(1.28,1.11e-6)(1.36,1.16e-6)(1.44,1.12e-6)(1.52,1.17e-6)(1.6,1.12e-6)(1.68,1.1e-6)(1.76,1.07e-6)(1.84,1.11e-6)(1.92,1.07e-6)(2.0,1.11e-6)(2.08,1.07e-6)(2.16,1.12e-6)(2.24,1.07e-6)(2.32,1.11e-6)(2.4,1.08e-6)(2.48,1.12e-6)(2.56,1.08e-6)(2.64,1.12e-6)(2.698,1.12e-6)(2.704,2.07e-6)(2.72,2.2e-6)(2.737,3.77e-6)(2.764,4.4e-6)(2.823,4.4e-6)(2.843,5.67e-6)(2.87,6.2e-6)(2.923,6.3e-6)(2.93,1.35e-5)(2.95,2.45e-5)(2.97,3.56e-5)(2.976,6.98e-5)(2.996,9.1e-5)(3.005,1.27e-4)(3.01,1.37e-4)(3.069,1.65e-4)(3.135,1.95e-4)(3.201,2.23e-4)(3.27,2.55e-4)(3.334,2.85e-4)(3.47,3.5e-4)(3.599,4.06e-4)(3.73,4.6e-4)(3.864,5.08e-4)(3.87,4.95e-4)(3.88,5.08e-4)(3.97,5.5e-4)(4.074,5.98e-4)};
\addplot[sO2] coordinates {(0,1.5e-7)(0.02,7.0e-8)(0.05,1.3e-7)(0.07,4.8e-8)(0.1,1.35e-7)(0.14,8.5e-8)(0.18,1.4e-7)(0.22,7.5e-8)(0.26,1.3e-7)(0.3,8.0e-8)(0.34,1.45e-7)(0.38,7.0e-8)(0.42,1.3e-7)(0.46,8.5e-8)(0.5,1.5e-7)(0.54,8.0e-8)(0.58,1.4e-7)(0.62,9.0e-8)(0.66,1.6e-7)(0.7,8.5e-8)(0.74,1.5e-7)(0.78,9.5e-8)(0.82,1.55e-7)(0.86,8.5e-8)(0.9,1.5e-7)(0.94,6.5e-8)(0.97,1.2e-7)(1.0,5.9e-8)(1.03,1.75e-7)(1.07,9.5e-8)(1.11,1.7e-7)(1.15,1.0e-7)(1.19,1.75e-7)(1.23,9.5e-8)(1.27,1.65e-7)(1.31,1.05e-7)(1.35,1.8e-7)(1.39,1.0e-7)(1.43,1.7e-7)(1.47,8.5e-8)(1.51,1.6e-7)(1.55,1.05e-7)(1.59,1.75e-7)(1.63,1.0e-7)(1.67,1.65e-7)(1.71,8.5e-8)(1.75,1.7e-7)(1.79,1.05e-7)(1.83,1.65e-7)(1.87,9.5e-8)(1.91,1.7e-7)(1.95,9.0e-8)(1.99,1.6e-7)(2.03,1.0e-7)(2.07,1.7e-7)(2.11,1.05e-7)(2.15,1.75e-7)(2.19,1.1e-7)(2.23,1.6e-7)(2.27,9.0e-8)(2.31,1.65e-7)(2.35,1.05e-7)(2.39,1.7e-7)(2.43,1.0e-7)(2.47,1.55e-7)(2.51,9.5e-8)(2.55,1.6e-7)(2.59,8.0e-8)(2.62,1.4e-7)(2.65,7.5e-8)(2.68,1.2e-7)(2.698,1.05e-7)(2.71,2.54e-7)(2.73,4.6e-7)(2.75,6.7e-7)(2.817,7.2e-7)(2.837,9.8e-7)(2.87,1.1e-6)(2.916,1.22e-6)(2.93,2.59e-6)(2.95,4.7e-6)(2.97,1.2e-5)(2.98,1.45e-5)(3.005,2.27e-5)(3.07,2.74e-5)(3.135,3.56e-5)(3.2,4.3e-5)(3.27,4.95e-5)(3.33,5.57e-5)(3.47,6.45e-5)(3.6,7.25e-5)(3.73,8.3e-5)(3.86,9.3e-5)(3.87,9.1e-5)(3.88,9.3e-5)(3.97,1.0e-4)(4.074,1.09e-4)};
\addplot[sAr] coordinates {(0,2.0e-8)(0.03,1.85e-8)(0.05,2.5e-8)(0.07,1.85e-8)(0.12,1.85e-8)(0.14,2.4e-8)(0.16,1.85e-8)(0.2,2.6e-8)(0.22,1.85e-8)(0.27,2.9e-8)(0.29,1.85e-8)(0.33,2.6e-8)(0.35,1.85e-8)(0.38,3.0e-8)(0.4,1.85e-8)(0.45,2.5e-8)(0.47,1.85e-8)(0.54,2.9e-8)(0.56,1.85e-8)(0.6,2.5e-8)(0.62,1.85e-8)(0.67,2.7e-8)(0.69,1.85e-8)(0.72,2.4e-8)(0.74,1.85e-8)(0.8,2.6e-8)(0.82,1.85e-8)(0.86,2.9e-8)(0.9,3.1e-8)(0.92,1.85e-8)(0.97,2.8e-8)(0.99,1.85e-8)(1.04,2.5e-8)(1.06,1.85e-8)(1.1,2.4e-8)(1.12,1.85e-8)(1.17,2.9e-8)(1.19,1.85e-8)(1.23,3.0e-8)(1.25,1.85e-8)(1.3,2.7e-8)(1.32,1.85e-8)(1.35,2.8e-8)(1.37,1.85e-8)(1.41,2.6e-8)(1.43,1.85e-8)(1.47,2.5e-8)(1.49,1.85e-8)(1.53,2.4e-8)(1.55,1.85e-8)(1.6,2.6e-8)(1.62,1.85e-8)(1.67,3.1e-8)(1.7,1.72e-8)(1.74,2.4e-8)(1.76,1.72e-8)(1.86,3.1e-8)(1.88,1.72e-8)(1.95,2.5e-8)(1.97,1.72e-8)(2.04,2.2e-8)(2.06,1.72e-8)(2.1,2.5e-8)(2.12,1.72e-8)(2.16,3.77e-8)(2.18,1.72e-8)(2.22,2.6e-8)(2.25,2.3e-8)(2.27,1.72e-8)(2.33,2.5e-8)(2.35,1.72e-8)(2.4,2.7e-8)(2.42,1.72e-8)(2.5,2.6e-8)(2.52,1.72e-8)(2.56,2.4e-8)(2.6,1.72e-8)(2.664,5.08e-8)(2.68,1.72e-8)(2.72,2.3e-8)(2.75,1.8e-8)(2.78,2.4e-8)(2.8,2.0e-8)(2.83,2.2e-8)(2.843,8.9e-8)(2.855,2.2e-8)(2.87,2.5e-8)(2.89,2.0e-8)(2.91,2.4e-8)(2.923,1.8e-8)(2.936,5.7e-8)(2.956,3.18e-7)(2.969,1.22e-6)(2.989,1.65e-6)(3.016,2.4e-6)(3.069,3.0e-6)(3.135,3.7e-6)(3.2,4.4e-6)(3.27,5.1e-6)(3.33,5.9e-6)(3.47,7.3e-6)(3.6,8.6e-6)(3.73,1.0e-5)(3.86,1.16e-5)(3.87,1.13e-5)(3.88,1.16e-5)(3.97,1.3e-5)(4.074,1.45e-5)};
\addplot[sCO2] coordinates {(0,1.6e-6)(0.01,2.0e-7)(0.04,2.6e-7)(0.07,2.1e-7)(0.1,2.8e-7)(0.14,2.2e-7)(0.18,2.7e-7)(0.22,2.1e-7)(0.26,2.75e-7)(0.3,2.15e-7)(0.34,2.9e-7)(0.38,2.1e-7)(0.42,2.7e-7)(0.46,2.05e-7)(0.5,2.8e-7)(0.54,2.2e-7)(0.58,2.7e-7)(0.62,2.15e-7)(0.66,2.85e-7)(0.7,2.2e-7)(0.74,2.7e-7)(0.78,2.05e-7)(0.82,2.8e-7)(0.86,2.2e-7)(0.9,2.9e-7)(0.94,2.25e-7)(0.98,2.8e-7)(1.02,2.3e-7)(1.06,2.9e-7)(1.1,2.25e-7)(1.14,2.85e-7)(1.18,2.3e-7)(1.22,3.0e-7)(1.26,2.35e-7)(1.3,2.9e-7)(1.34,2.3e-7)(1.38,3.1e-7)(1.42,2.4e-7)(1.46,3.2e-7)(1.5,2.5e-7)(1.54,3.1e-7)(1.58,2.4e-7)(1.62,3.3e-7)(1.66,2.5e-7)(1.7,3.2e-7)(1.74,2.6e-7)(1.78,3.3e-7)(1.82,2.5e-7)(1.86,3.2e-7)(1.9,2.5e-7)(1.94,3.3e-7)(1.98,2.5e-7)(2.02,3.0e-7)(2.06,2.3e-7)(2.1,2.9e-7)(2.14,2.25e-7)(2.18,2.85e-7)(2.22,2.3e-7)(2.26,2.9e-7)(2.3,2.2e-7)(2.34,3.0e-7)(2.38,2.3e-7)(2.42,2.8e-7)(2.46,2.25e-7)(2.5,2.9e-7)(2.54,2.3e-7)(2.58,2.75e-7)(2.62,2.2e-7)(2.66,2.5e-7)(2.68,2.4e-7)(2.698,3.16e-7)(2.724,3.7e-7)(2.737,4.0e-7)(2.77,4.4e-7)(2.804,4.8e-7)(2.83,5.8e-7)(2.87,5.6e-7)(2.91,5.8e-7)(2.93,9.1e-7)(2.95,1.42e-6)(2.99,1.92e-6)(3.005,2.59e-6)(3.07,3.77e-6)(3.135,4.9e-6)(3.2,5.9e-6)(3.27,6.9e-6)(3.33,7.94e-6)(3.47,9.6e-6)(3.6,1.11e-5)(3.73,1.28e-5)(3.86,1.45e-5)(3.87,1.42e-5)(3.88,1.45e-5)(3.97,1.6e-5)(4.074,1.75e-5)};
\draw[color=txtgray, line width=0.3bp] (rel axis cs:1,0) -- (rel axis cs:1,1);
\end{axis}

% ---------- titles, labels, legends, notes ----------
\tikzset{ttl/.style={anchor=west, inner sep=0pt, font=\bfseries\fontsize{8.8bp}{10bp}\selectfont},
         ylab/.style={rotate=90, inner sep=0pt, font=\bfseries\fontsize{9bp}{10bp}\selectfont},
         xlab/.style={inner sep=0pt, font=\bfseries\fontsize{8.7bp}{10bp}\selectfont},
         note/.style={anchor=base west, inner sep=0pt, font=\bfseries\fontsize{7bp}{8bp}\selectfont}}

\node[ttl] at (78,1258-58) {EXC ({\cjk 全圧補正})};
\node[ttl] at (1919,1258-65) {EXC ({\cjk 全圧補正})};
\node[ttl] at (3708,1258-60) {EXC ({\cjk 全圧補正})};

\node[ylab] at (82,1258-501) {Residual gas pressure in EXC (Pa)};
\node[ylab] at (1924,1258-539) {Residual gas pressure in EXC (Pa)};
\node[ylab] at (3712,1258-485) {Residual gas pressure in EXC (Pa)};

\node[xlab] at (1012,1258-1051) {Time};
\node[xlab] at (2838,1258-1123) {Time};
\node[xlab] at (4616,1258-1016) {Time};

% legends
\draw[black, line width=0.6bp] (405,1258-53) rectangle (1745,1258-111);
\legitem{440}{1258-84}{sTot}{Total Press.}
\legitem{687}{1258-84}{sH}{H}
\legitem{798}{1258-84}{sHe}{He}
\legitem{928}{1258-84}{sCH4}{CH4}
\legitem{1073}{1258-84}{sH2O}{H2O}
\legitem{1223}{1258-84}{sN2}{N2}
\legitem{1352}{1258-84}{sO2}{O2}
\legitem{1482}{1258-84}{sAr}{Ar}
\legitem{1605}{1258-84}{sCO2}{CO2}

\draw[black, line width=0.6bp] (2240,1258-62) rectangle (3562,1258-125);
\legitem{2274}{1258-94}{sTot}{Total Press.}
\legitem{2517}{1258-94}{sH}{H}
\legitem{2627}{1258-94}{sHe}{He}
\legitem{2753}{1258-94}{sCH4}{CH4}
\legitem{2899}{1258-94}{sH2O}{H2O}
\legitem{3047}{1258-94}{sN2}{N2}
\legitem{3173}{1258-94}{sO2}{O2}
\legitem{3301}{1258-94}{sAr}{Ar}
\legitem{3423}{1258-94}{sCO2}{CO2}

\draw[black, line width=0.6bp] (4024,1258-54) rectangle (5255,1258-103);
\legitem{4048}{1258-79}{sTot}{Total Press.}
\legitem{4284}{1258-79}{sH}{H}
\legitem{4385}{1258-79}{sHe}{He}
\legitem{4505}{1258-79}{sCH4}{CH4}
\legitem{4635}{1258-79}{sH2O}{H2O}
\legitem{4778}{1258-79}{sN2}{N2}
\legitem{4897}{1258-79}{sO2}{O2}
\legitem{5013}{1258-79}{sAr}{Ar}
\legitem{5127}{1258-79}{sCO2}{CO2}

% start / stop arrows and notes
\blockarrow{268}{1258-990}{39}
\blockarrow{1715}{1258-990}{39}
\node[note] at (166,1258-1067) {Start '24/Feb./5};
\node[note] at (166,1258-1100) {5:50};
\node[note] at (1556,1258-1067) {Stop '24/Feb./6};
\node[note] at (1556,1258-1100) {5:51};

\blockarrow{2106}{1258-1059}{41}
\blockarrow{3533}{1258-1059}{41}
\node[note] at (2005,1258-1140) {Start '24/Feb./6};
\node[note] at (2005,1258-1173) {6:16};
\node[note] at (3440,1258-1140) {Stop '24/Feb./7};
\node[note] at (3440,1258-1173) {6:16};

\blockarrow{3892}{1258-955}{37}
\blockarrow{5302}{1258-955}{37}
\node[note] at (3794,1258-1031) {Start '24/Feb./7};
\node[note] at (3794,1258-1064) {6:57};
\node[note] at (5210,1258-1031) {Stop '24/Feb./7};
\node[note] at (5210,1258-1064) {14:13};
\end{tikzpicture}
\end{document}
